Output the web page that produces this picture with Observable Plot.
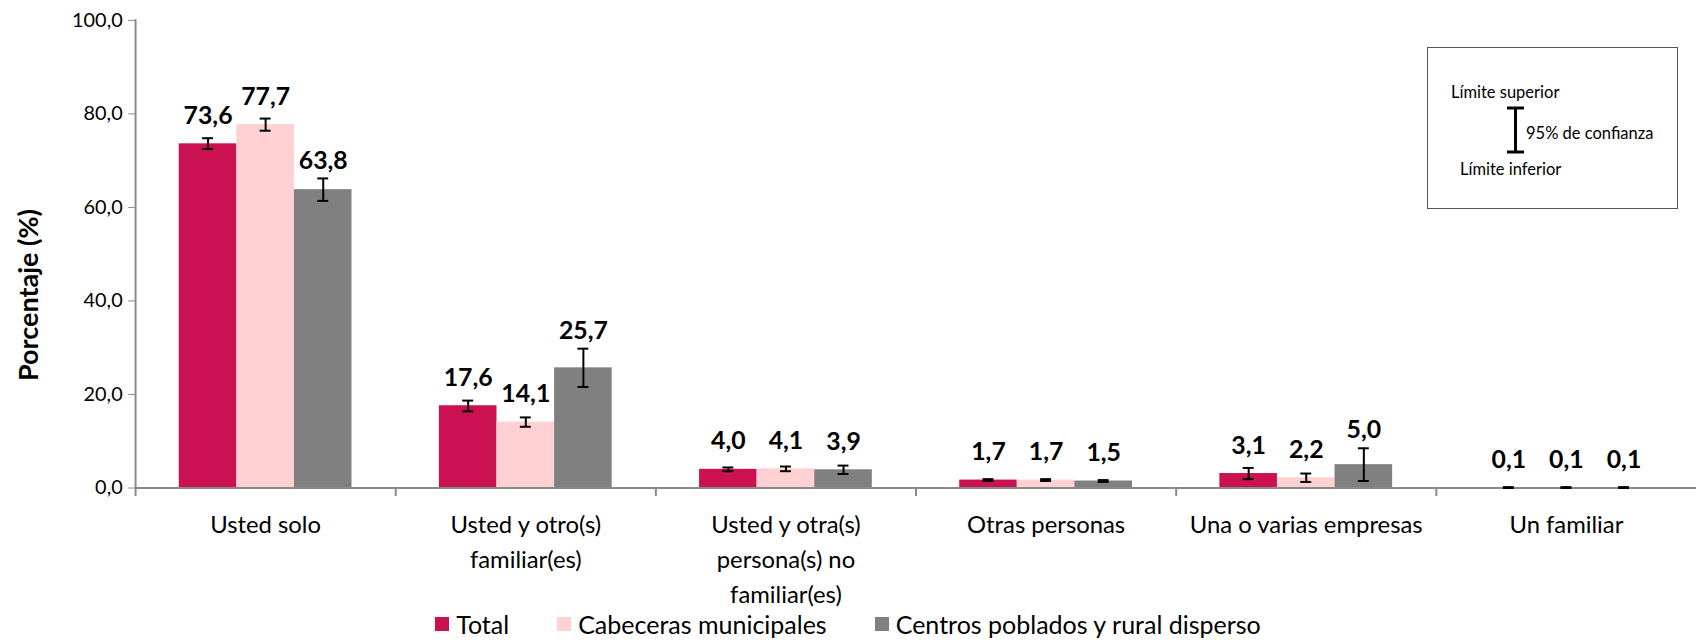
<!DOCTYPE html>
<html><head><meta charset="utf-8">
<script src="https://cdn.jsdelivr.net/npm/d3@7"></script>
<script src="https://cdn.jsdelivr.net/npm/@observablehq/plot@0.6"></script>
<style>
html,body{margin:0;padding:0;background:#fff;overflow:hidden;}
#wrap{position:relative;width:1696px;height:640px;overflow:hidden;font-family:Lato, sans-serif;color:#000;}
#chart svg{display:block;}
#ytitle{position:absolute;left:27px;top:295px;transform:translate(-50%,-50%) rotate(-90deg);font-weight:700;font-size:27px;white-space:nowrap;}
#ci{position:absolute;left:1427px;top:47px;}
#legend{position:absolute;top:610px;left:0;width:1696px;height:28px;display:flex;justify-content:center;align-items:center;gap:48px;font-size:25px;line-height:26px;}
#legend .item{display:flex;align-items:center;gap:7px;}
#legend .sw{width:14px;height:14px;display:inline-block;}
</style>
</head><body>
<div id="wrap">
  <div id="chart"></div>
  <div id="ytitle">Porcentaje (%)</div>
  <svg id="ci" width="251" height="162" font-family="Lato, sans-serif" font-size="16.5">
    <rect x="0.5" y="0.5" width="250" height="161" fill="#fff" stroke="#555" stroke-width="1"/>
    <text x="24" y="51">Límite superior</text>
    <path d="M80,61H97M88.5,61V105M80,105H97" stroke="#000" stroke-width="3" fill="none"/>
    <text x="99" y="92">95% de confianza</text>
    <text x="33" y="128">Límite inferior</text>
  </svg>
  <div id="legend"></div>
</div>
<script>
const categories = ["Usted solo", "Usted y otro(s)\nfamiliar(es)", "Usted y otra(s)\npersona(s) no\nfamiliar(es)", "Otras personas", "Una o varias empresas", "Un familiar"];
const series = ["Total", "Cabeceras municipales", "Centros poblados y rural disperso"];
const colors = ["#CC1152", "#FFD1D3", "#808080"];

const totalValues     = [73.6, 17.6, 4.0, 1.7, 3.1, 0.1];
const cabecerasValues = [77.7, 14.1, 4.1, 1.7, 2.2, 0.1];
const centrosValues   = [63.8, 25.7, 3.9, 1.5, 5.0, 0.1];

const totalLow      = [72.5, 16.4, 3.6, 1.5, 1.9, 0.0];
const totalHigh     = [74.8, 18.7, 4.4, 1.9, 4.3, 0.2];
const cabecerasLow  = [76.4, 13.1, 3.6, 1.5, 1.3, 0.0];
const cabecerasHigh = [79.0, 15.1, 4.6, 1.9, 3.1, 0.2];
const centrosLow    = [61.4, 21.6, 3.0, 1.3, 1.5, 0.0];
const centrosHigh   = [66.2, 29.8, 4.8, 1.7, 8.5, 0.2];

const yTicks = [0, 20, 40, 60, 80, 100];

const values = [totalValues, cabecerasValues, centrosValues];
const lows = [totalLow, cabecerasLow, centrosLow];
const highs = [totalHigh, cabecerasHigh, centrosHigh];

const data = [];
categories.forEach((c, i) => series.forEach((s, j) => data.push({cat: c, series: s, value: values[j][i], lo: lows[j][i], hi: highs[j][i]})));

const fmt = v => v.toFixed(1).replace(".", ",");
const axisColor = "#8a8a8a";

const plot = Plot.plot({
  width: 1708, height: 605,
  marginLeft: 135, marginRight: 0, marginTop: 20, marginBottom: 114,
  style: {fontFamily: "Lato, sans-serif", color: "#000", background: "#fff", overflow: "visible"},
  fx: {domain: categories, paddingInner: 0, paddingOuter: 0, label: null},
  x: {domain: series, paddingInner: 0, paddingOuter: 0.75, axis: null},
  y: {domain: [0, 100], label: null},
  color: {domain: series, range: colors},
  marks: [
    Plot.barY(data, {fx: "cat", x: "series", y: "value", fill: "series"}),
    Plot.ruleY([0], {stroke: axisColor, strokeWidth: 2}),
    Plot.frame({anchor: "left", stroke: axisColor, strokeWidth: 2, insetTop: 471, insetBottom: -7}),
    Plot.frame({anchor: "left", stroke: axisColor, strokeWidth: 2, facetAnchor: "left"}),
    Plot.ruleX(data, {fx: "cat", x: "series", y1: "lo", y2: "hi", stroke: "#000", strokeWidth: 2}),
    Plot.tickY(data, {fx: "cat", x: "series", y: "lo", stroke: "#000", strokeWidth: 2, insetLeft: 23.5, insetRight: 23.5}),
    Plot.tickY(data, {fx: "cat", x: "series", y: "hi", stroke: "#000", strokeWidth: 2, insetLeft: 23.5, insetRight: 23.5}),
    Plot.text(data, {fx: "cat", x: "series", y: d => Math.max(d.value + 2.12, d.hi), dy: -10, text: d => fmt(d.value), fontWeight: 700, fontSize: 25, lineAnchor: "bottom", fill: "#000"}),
    Plot.axisY({ticks: yTicks, tickFormat: fmt, tickSize: 7, tickPadding: 6, fontSize: 20, stroke: axisColor, label: null}),
    Plot.axisFx({anchor: "bottom", tickSize: 0, tickPadding: 21, fontSize: 24, lineHeight: 1.45, label: null})
  ]
});
document.getElementById("chart").appendChild(plot);

const legend = document.getElementById("legend");
series.forEach((s, j) => {
  const item = document.createElement("div");
  item.className = "item";
  const sw = document.createElement("span");
  sw.className = "sw";
  sw.style.background = colors[j];
  const label = document.createElement("span");
  label.textContent = s;
  item.appendChild(sw);
  item.appendChild(label);
  legend.appendChild(item);
});
</script>
</body></html>
